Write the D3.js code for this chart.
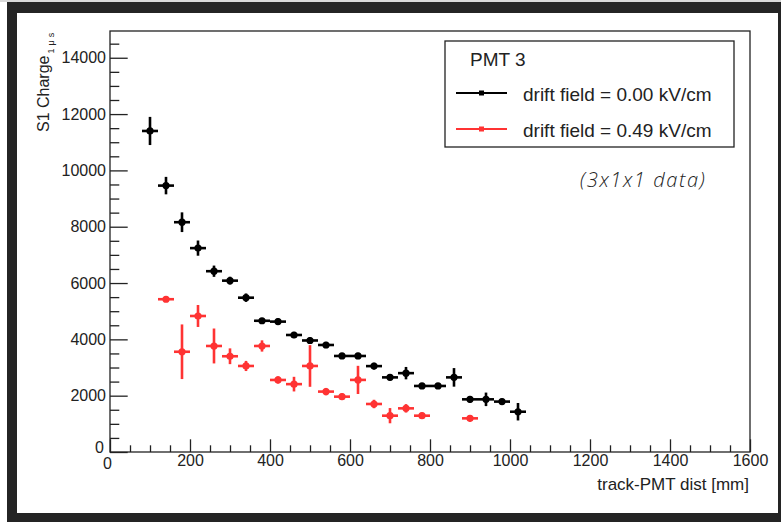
<!DOCTYPE html>
<html>
<head>
<meta charset="utf-8">
<script src="https://cdn.jsdelivr.net/npm/d3@7"></script>
<style>
  html, body { margin: 0; padding: 0; background: #fff; }
  svg { display: block; }
  text { font-family: "Liberation Sans", Arial, Helvetica, sans-serif; fill: #222; }
</style>
</head>
<body>
<svg id="chart" width="781" height="522"></svg>
<script>
// Bin centres (mm) and S1 charge per bin, with vertical errors
const blackX   = [100, 140, 180, 220, 260, 300, 340, 380, 420, 460, 500, 540, 580, 620, 660, 700, 740, 780, 820, 860, 900, 940, 980, 1020];
const blackY   = [11400, 9460, 8160, 7240, 6420, 6085, 5480, 4660, 4630, 4155, 3960, 3800, 3410, 3410, 3050, 2650, 2800, 2345, 2345, 2650, 1870, 1870, 1790, 1430];
const blackErr = [500, 310, 350, 270, 200, 140, 150, 100, 120, 110, 120, 110, 100, 110, 120, 110, 220, 100, 100, 330, 120, 240, 110, 310];

const redX   = [140, 180, 220, 260, 300, 340, 380, 420, 460, 500, 540, 580, 620, 660, 700, 740, 780, 900];
const redY   = [5425, 3560, 4830, 3765, 3400, 3055, 3765, 2558, 2410, 3055, 2145, 1965, 2560, 1705, 1290, 1550, 1290, 1195];
const redErr = [100, 970, 390, 620, 280, 180, 200, 130, 260, 740, 130, 120, 500, 150, 270, 150, 110, 120];

const binHalfWidth = 20;

const xMajorTicks = [0, 200, 400, 600, 800, 1000, 1200, 1400, 1600];
const yMajorTicks = [0, 2000, 4000, 6000, 8000, 10000, 12000, 14000];

const legendTitle = "PMT 3";
const seriesNames = ["drift field = 0.00 kV/cm", "drift field = 0.49 kV/cm"];
const seriesColors = ["#000000", "#ff3333"];

const svg = d3.select("#chart");
const W = 781, H = 522;

// canvas frame
svg.append("rect").attr("x", 0).attr("y", 0).attr("width", W).attr("height", H).attr("fill", "#fff");
svg.append("rect").attr("x", 0).attr("y", 0).attr("width", W).attr("height", 2).attr("fill", "#d8d8d8");
svg.append("rect").attr("x", 7).attr("y", 2).attr("width", W - 7).attr("height", H - 2).attr("fill", "#242424");
svg.append("rect").attr("x", 17).attr("y", 13).attr("width", 761).attr("height", 500).attr("fill", "#fff");

const plot = { left: 110, right: 750, top: 31, bottom: 452 };

const x = d3.scaleLinear().domain([0, 1600]).range([plot.left, plot.right]);
const y = d3.scaleLinear().domain([0, 14950]).range([plot.bottom, plot.top]);

const xMinor = d3.range(0, 1601, 50).filter(v => v % 200 !== 0);
const yMinor = d3.range(0, 14950, 500).filter(v => v % 2000 !== 0);

function styleAxis(g) {
  g.select(".domain").remove();
  g.selectAll("line").attr("stroke", "#222").attr("stroke-width", 1.3);
  g.selectAll("text").attr("fill", "#222").style("font-family", "'Liberation Sans', Arial, sans-serif");
}

// x axis (ticks point inward)
svg.append("g").attr("transform", `translate(0,${plot.bottom})`)
  .call(d3.axisBottom(x).tickValues(xMinor).tickSize(-6.7).tickFormat(""))
  .call(styleAxis);
svg.append("g").attr("transform", `translate(0,${plot.bottom})`)
  .call(d3.axisBottom(x).tickValues(xMajorTicks).tickSize(-12.7).tickPadding(3).tickFormat(d3.format("d")))
  .call(styleAxis)
  .call(g => g.selectAll("text").style("font-size", "16px"))
  .call(g => g.selectAll(".tick").filter(d => d === 0).select("text").attr("x", -3).attr("dy", "0.85em"));

// y axis (ticks point inward)
svg.append("g").attr("transform", `translate(${plot.left},0)`)
  .call(d3.axisLeft(y).tickValues(yMinor).tickSize(-9.3).tickFormat(""))
  .call(styleAxis);
svg.append("g").attr("transform", `translate(${plot.left},0)`)
  .call(d3.axisLeft(y).tickValues(yMajorTicks).tickSize(-17.7).tickPadding(4).tickFormat(d3.format("d")))
  .call(styleAxis)
  .call(g => g.selectAll("text").style("font-size", "16px"))
  .call(g => g.selectAll(".tick").filter(d => d === 0).select("text").attr("dy", "0.05em").attr("x", -6));

// plot frame
svg.append("rect")
  .attr("x", plot.left).attr("y", plot.top)
  .attr("width", plot.right - plot.left).attr("height", plot.bottom - plot.top)
  .attr("fill", "none").attr("stroke", "#222").attr("stroke-width", 1.3);

// axis titles
svg.append("text")
  .attr("x", 749).attr("y", 490)
  .attr("text-anchor", "end")
  .style("font-size", "17px")
  .text("track-PMT dist [mm]");

const yTitle = svg.append("text")
  .attr("transform", "translate(49,132) rotate(-90)")
  .style("font-size", "16px");
yTitle.append("tspan").text("S1 Charge");
yTitle.append("tspan").attr("dy", 5).attr("dx", 2).style("font-size", "9px").style("letter-spacing", "3px").text("1μs");

// data series: error crosses + markers
function drawSeries(xs, ys, errs, color) {
  const pts = xs.map((v, i) => ({ x: v, y: ys[i], e: errs[i] }));
  const g = svg.append("g");
  g.selectAll("line.h").data(pts).join("line")
    .attr("x1", d => x(d.x - binHalfWidth)).attr("x2", d => x(d.x + binHalfWidth))
    .attr("y1", d => y(d.y)).attr("y2", d => y(d.y))
    .attr("stroke", color).attr("stroke-width", 2.6);
  g.selectAll("line.v").data(pts).join("line")
    .attr("x1", d => x(d.x)).attr("x2", d => x(d.x))
    .attr("y1", d => y(d.y - d.e)).attr("y2", d => y(d.y + d.e))
    .attr("stroke", color).attr("stroke-width", 2.6);
  g.selectAll("circle").data(pts).join("circle")
    .attr("cx", d => x(d.x)).attr("cy", d => y(d.y)).attr("r", 3.6)
    .attr("fill", color);
}
drawSeries(blackX, blackY, blackErr, seriesColors[0]);
drawSeries(redX, redY, redErr, seriesColors[1]);

// legend
svg.append("rect")
  .attr("x", 445).attr("y", 41).attr("width", 289).attr("height", 106)
  .attr("fill", "#fff").attr("stroke", "#222").attr("stroke-width", 1.3);
svg.append("text").attr("x", 470).attr("y", 66).style("font-size", "19px").text(legendTitle);
const legendRows = [93, 129];
seriesNames.forEach((name, i) => {
  const ly = legendRows[i];
  svg.append("line").attr("x1", 456).attr("x2", 507).attr("y1", ly).attr("y2", ly)
    .attr("stroke", seriesColors[i]).attr("stroke-width", 2);
  svg.append("rect").attr("x", 479).attr("y", ly - 2.5).attr("width", 5).attr("height", 5)
    .attr("fill", seriesColors[i]);
  svg.append("text").attr("x", 523).attr("y", ly + 7.5).style("font-size", "19px").text(name);
});

// annotation
svg.append("text")
  .attr("x", 580).attr("y", 187)
  .style("font-family", "'Open Sans', sans-serif")
  .style("font-style", "italic").style("font-weight", 300)
  .style("font-size", "20px").style("letter-spacing", "1.6px").attr("fill", "#333")
  .text("(3x1x1  data)");
</script>
</body>
</html>
